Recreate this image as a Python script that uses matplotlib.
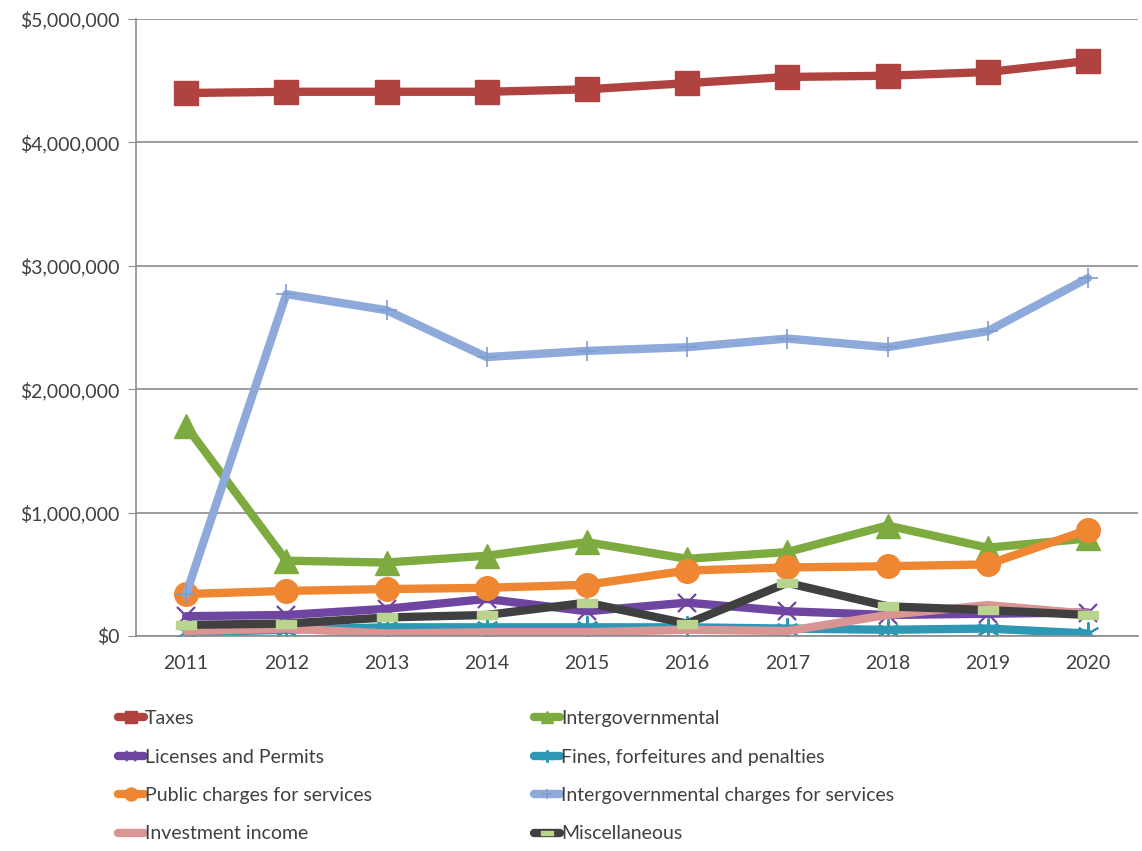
import numpy as np
import matplotlib
matplotlib.use("Agg")
import matplotlib.pyplot as plt
from matplotlib.ticker import FuncFormatter, MultipleLocator

plt.rcParams["font.family"] = ["Lato", "DejaVu Sans"]

# ── revenue by source, dollars ───────────────────────────────────────────────
years = [2011, 2012, 2013, 2014, 2015, 2016, 2017, 2018, 2019, 2020]

taxes          = [4400000, 4410000, 4410000, 4410000, 4430000, 4480000, 4530000, 4540000, 4570000, 4660000]
intergov       = [1700000, 610000, 595000, 650000, 760000, 625000, 680000, 895000, 715000, 790000]
licenses       = [160000, 170000, 220000, 300000, 200000, 270000, 200000, 170000, 180000, 190000]
fines          = [30000, 50000, 70000, 70000, 70000, 70000, 60000, 50000, 60000, 20000]
public_charges = [340000, 365000, 380000, 390000, 415000, 530000, 555000, 565000, 580000, 860000]
intergov_chg   = [340000, 2770000, 2640000, 2260000, 2310000, 2340000, 2410000, 2340000, 2470000, 2900000]
investment     = [40000, 60000, 20000, 30000, 30000, 50000, 40000, 170000, 250000, 180000]
misc           = [90000, 100000, 150000, 170000, 270000, 100000, 430000, 240000, 210000, 170000]

labels = [
    "Taxes", "Intergovernmental", "Licenses and Permits",
    "Fines, forfeitures and penalties", "Public charges for services",
    "Intergovernmental charges for services", "Investment income", "Miscellaneous",
]

bar_marker = [(-1, -0.4), (1, -0.4), (1, 0.4), (-1, 0.4), (-1, -0.4)]

styles = [
    dict(color="#B04340", marker="s", ms=17, mfc="#B04340", mec="#B04340"),
    dict(color="#7EAB3F", marker="^", ms=17, mfc="#7EAB3F", mec="#7EAB3F"),
    dict(color="#6E45A0", marker="x", ms=13, mew=1.6, mec="#6E45A0"),
    dict(color="#2E97B4", marker=(6, 2, 0), ms=16, mew=1.5, mec="#2E97B4"),
    dict(color="#EF8632", marker="o", ms=17, mfc="#EF8632", mec="#EF8632"),
    dict(color="#8EAADA", marker="+", ms=14, mew=1.2, mec="#7F9CCF"),
    dict(color="#D99594", marker=None),
    dict(color="#404040", marker=bar_marker, ms=15, mfc="#B8D48E", mec="#B8D48E"),
]

series = [taxes, intergov, licenses, fines, public_charges, intergov_chg, investment, misc]

fig = plt.figure(figsize=(11.42, 8.51), dpi=100)
ax = fig.add_axes([0.1191, 0.2527, 0.8774, 0.725])

lines = []
for vals, lab, st in zip(series, labels, styles):
    ln, = ax.plot(years, vals, lw=6, label=lab, solid_capstyle="round", **st)
    lines.append(ln)

ax.set_xlim(2010.5, 2020.5)
ax.set_ylim(0, 5000000)
ax.set_xticks(years)
ax.yaxis.set_major_locator(MultipleLocator(1000000))
ax.yaxis.set_major_formatter(FuncFormatter(lambda v, p: f"${v:,.0f}"))
ax.grid(axis="y", color="#8C8C8C", lw=1.2)
ax.set_axisbelow(True)

for s in ["top", "right"]:
    ax.spines[s].set_visible(False)
for s in ["left", "bottom"]:
    ax.spines[s].set_color("#8C8C8C")
    ax.spines[s].set_linewidth(1.2)

ax.tick_params(axis="y", length=6, color="#8C8C8C", labelsize=14, labelcolor="#404040", pad=6)
ax.tick_params(axis="x", length=0, labelsize=14, labelcolor="#404040", pad=14)

# legend reads row by row, so feed columns in that order
order = [0, 2, 4, 6, 1, 3, 5, 7]
fig.legend([lines[i] for i in order], [labels[i] for i in order],
           loc="upper left", bbox_to_anchor=(0.088, 0.186), ncol=2, frameon=False,
           fontsize=14, labelcolor="#404040", handlelength=1.35, handletextpad=0.05,
           labelspacing=1.1, columnspacing=8.3, markerscale=0.55)

fig.savefig("out.png", dpi=100)
